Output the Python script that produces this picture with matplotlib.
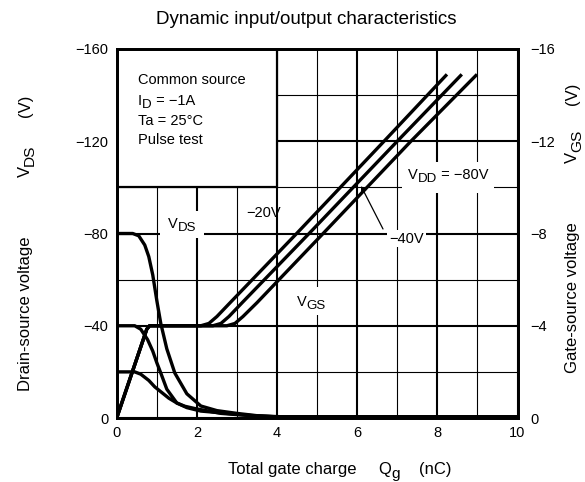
import matplotlib
matplotlib.use("Agg")
import matplotlib.pyplot as plt
from matplotlib.ticker import MultipleLocator, FuncFormatter
from matplotlib.patches import Rectangle
from matplotlib.transforms import offset_copy, IdentityTransform

plt.rcParams['font.family'] = ['Liberation Sans', 'DejaVu Sans']

# ---------------- data ----------------
# V_DS curves (left axis, V)
vds80_q = [0, 0.4, 0.55, 0.7, 0.8, 0.9, 1.0, 1.1, 1.25, 1.45, 1.75, 2.1, 2.5, 3.0, 3.5, 4.0, 10]
vds80_v = [-80, -80, -79, -75, -70, -62, -51, -41, -30, -19.5, -10.5, -5.2, -3.2, -2.0, -1.0, -0.5, -0.5]

vds40_q = [0, 0.45, 0.6, 0.77, 0.9, 1.0, 1.1, 1.25, 1.5, 1.75, 2.1, 2.5, 3.0, 3.5, 4.0, 10]
vds40_v = [-40, -40, -38.5, -34, -29, -24, -19.5, -12.5, -6.5, -4.5, -3.0, -2.4, -1.6, -0.8, -0.5, -0.5]

vds20_q = [0, 0.45, 0.6, 0.8, 0.95, 1.15, 1.3, 1.5, 1.7, 1.95, 2.6, 3.2, 3.7, 4.2, 10]
vds20_v = [-20, -20, -19, -16.3, -13.5, -10.7, -8.6, -6.5, -5.1, -4.1, -2.0, -1.2, -0.8, -0.5, -0.5]

# V_GS curves (right axis, V)
vgs20_q = [0, 0.75, 0.82, 2.1, 2.3, 2.5, 2.83, 4.49, 6.67, 8.24]
vgs20_v = [0, -3.85, -4.0, -4.0, -4.1, -4.4, -5.0, -8.0, -12.0, -14.9]

vgs40_q = [0, 0.75, 0.82, 2.4, 2.6, 2.8, 3.13, 4.8, 7.0, 8.61]
vgs40_v = [0, -3.85, -4.0, -4.0, -4.1, -4.4, -5.0, -8.0, -12.0, -14.9]

vgs80_q = [0, 0.75, 0.82, 2.75, 2.95, 3.15, 3.5, 5.15, 7.34, 8.99]
vgs80_v = [0, -3.85, -4.0, -4.0, -4.1, -4.4, -5.0, -8.0, -12.0, -14.9]

x_ticks = [0, 2, 4, 6, 8, 10]
left_ticks = [0, -40, -80, -120, -160]
right_ticks = [0, -4, -8, -12, -16]

# ---------------- figure ----------------
W, H = 585, 482
fig = plt.figure(figsize=(W / 100, H / 100), dpi=100)
renderer = fig.canvas.get_renderer()
L, R, B, T = 116.7 / W, 517.5 / W, 1 - 418 / H, 1 - 49 / H
ax = fig.add_axes([L, B, R - L, T - B])
ax2 = ax.twinx()

ax.set_xlim(0, 10)
ax.set_ylim(0, -160)
ax2.set_ylim(0, -16)

ax.set_xticks(x_ticks)
ax.set_yticks(left_ticks)
ax2.set_yticks(right_ticks)
ax.xaxis.set_minor_locator(MultipleLocator(1))
ax.yaxis.set_minor_locator(MultipleLocator(20))

fmt = FuncFormatter(lambda v, p: f"{int(round(v))}".replace('-', '\u2212'))
ax.yaxis.set_major_formatter(fmt)
ax2.yaxis.set_major_formatter(fmt)
ax.xaxis.set_major_formatter(fmt)

ax.tick_params(axis='both', which='both', length=0, labelsize=10.5)
ax.tick_params(axis='y', pad=6)
ax.tick_params(axis='x', pad=6)
ax2.tick_params(axis='y', length=0, labelsize=10.5, pad=9)

ax.grid(True, which='major', color='black', linewidth=1.5, zorder=0)
ax.grid(True, which='minor', color='black', linewidth=0.8, zorder=0)
ax.set_axisbelow(True)

for a in (ax, ax2):
    for s in a.spines.values():
        s.set_linewidth(2.0)


def measure(s, fs):
    t = fig.text(0, 0, s, fontsize=fs)
    w = t.get_window_extent(renderer).width
    t.remove()
    return w


def rich(x, y, pieces, fs, transform, rotation=0, ha='center', target=None, zorder=5):
    """pieces: list of (text, baseline drop in px, size factor)"""
    target = target if target is not None else fig
    widths = [measure(s, fs * k) for s, _, k in pieces]
    total = sum(widths)
    pos = {'left': 0.0, 'center': -total / 2, 'right': -total}[ha]
    for (s, drop, k), w in zip(pieces, widths):
        if rotation == 0:
            dx, dy = pos, -drop
        else:
            dx, dy = drop, pos
        tr = offset_copy(transform, fig=fig, x=dx, y=dy, units='dots')
        target.text(x, y, s, transform=tr, fontsize=fs * k, rotation=rotation,
                    rotation_mode='anchor', ha='left', va='baseline', zorder=zorder)
        pos += w


def px2data(px, py):
    return (px - 116.7) / 40.08, -(418 - py) / 2.306


def white_box(x0, y0, x1, y1):
    q0, v0 = px2data(x0, y0)
    q1, v1 = px2data(x1, y1)
    ax.add_patch(Rectangle((q0, v0), q1 - q0, v1 - v0, facecolor='white',
                           edgecolor='none', zorder=1.5))


# conditions box
ax.add_patch(Rectangle((0, -160), 4, 60, facecolor='white', edgecolor='black',
                       linewidth=1.6, zorder=2))
fs_in = 10.5
rich(0.53, -144.8, [("Common source", 0, 1)], fs_in, ax.transData, ha='left', target=ax)
rich(0.53, -135.8, [("I", 0, 1), ("D", 3.5, 0.92), (" = \u22121A", 0, 1)], fs_in,
     ax.transData, ha='left', target=ax)
rich(0.53, -127.2, [("Ta = 25\u00b0C", 0, 1)], fs_in, ax.transData, ha='left', target=ax)
rich(0.53, -118.6, [("Pulse test", 0, 1)], fs_in, ax.transData, ha='left', target=ax)

lw = 2.4
for q, v in ((vds80_q, vds80_v), (vds40_q, vds40_v), (vds20_q, vds20_v)):
    ax.plot(q, v, color='black', linewidth=lw, zorder=4, solid_capstyle='butt')
for q, v in ((vgs20_q, vgs20_v), (vgs40_q, vgs40_v), (vgs80_q, vgs80_v)):
    ax2.plot(q, v, color='black', linewidth=lw, zorder=4, solid_capstyle='butt')

# in-plot labels
white_box(160, 211, 204, 238)
rich(*px2data(182, 228), [("V", 0, 1), ("DS", 3.5, 0.92)], fs_in, ax.transData, target=ax)
rich(*px2data(264, 217), [("\u221220V", 0, 1)], fs_in, ax.transData, target=ax)
white_box(293, 287, 329, 315)
rich(*px2data(311, 306), [("V", 0, 1), ("GS", 3.5, 0.92)], fs_in, ax.transData, target=ax)
white_box(402, 162, 494, 193)
rich(*px2data(448.5, 179), [("V", 0, 1), ("DD", 3.5, 0.92), (" = \u221280V", 0, 1)], fs_in,
     ax.transData, target=ax)
white_box(387, 230, 426, 247)
rich(*px2data(406.5, 243), [("\u221240V", 0, 1)], fs_in, ax.transData, target=ax)
ax.annotate("", xy=px2data(361, 186), xytext=px2data(383, 229),
            arrowprops=dict(arrowstyle='-|>', color='black', lw=0.9,
                            mutation_scale=8, shrinkA=0, shrinkB=0), zorder=3)

# title and axis labels (pixel coordinates)
pix = IdentityTransform()
fig.text(306 / W, 1 - 20 / H, "Dynamic input/output characteristics",
         fontsize=13.5, ha='center', va='center')
fs_lab = 12
rich(292, H - 474, [("Total gate charge", 0, 1)], fs_lab, pix)
rich(378, H - 474, [("Q", 0, 1), ("g", 4, 0.92)], fs_lab, pix, ha='left')
rich(435.5, H - 474, [("(nC)", 0, 1)], fs_lab, pix)

rich(30, H - 313.5, [("Drain-source voltage", 0, 1)], fs_lab, pix, rotation=90)
rich(30, H - 177, [("V", 0, 1), ("DS", 4, 0.92)], fs_lab, pix, rotation=90, ha='left')
rich(30, H - 106, [("(V)", 0, 1)], fs_lab, pix, rotation=90)

rich(577, H - 297.5, [("Gate-source voltage", 0, 1)], fs_lab, pix, rotation=90)
rich(577, H - 163, [("V", 0, 1), ("GS", 4, 0.92)], fs_lab, pix, rotation=90, ha='left')
rich(577, H - 94, [("(V)", 0, 1)], fs_lab, pix, rotation=90)

fig.savefig("out.png", dpi=100)
